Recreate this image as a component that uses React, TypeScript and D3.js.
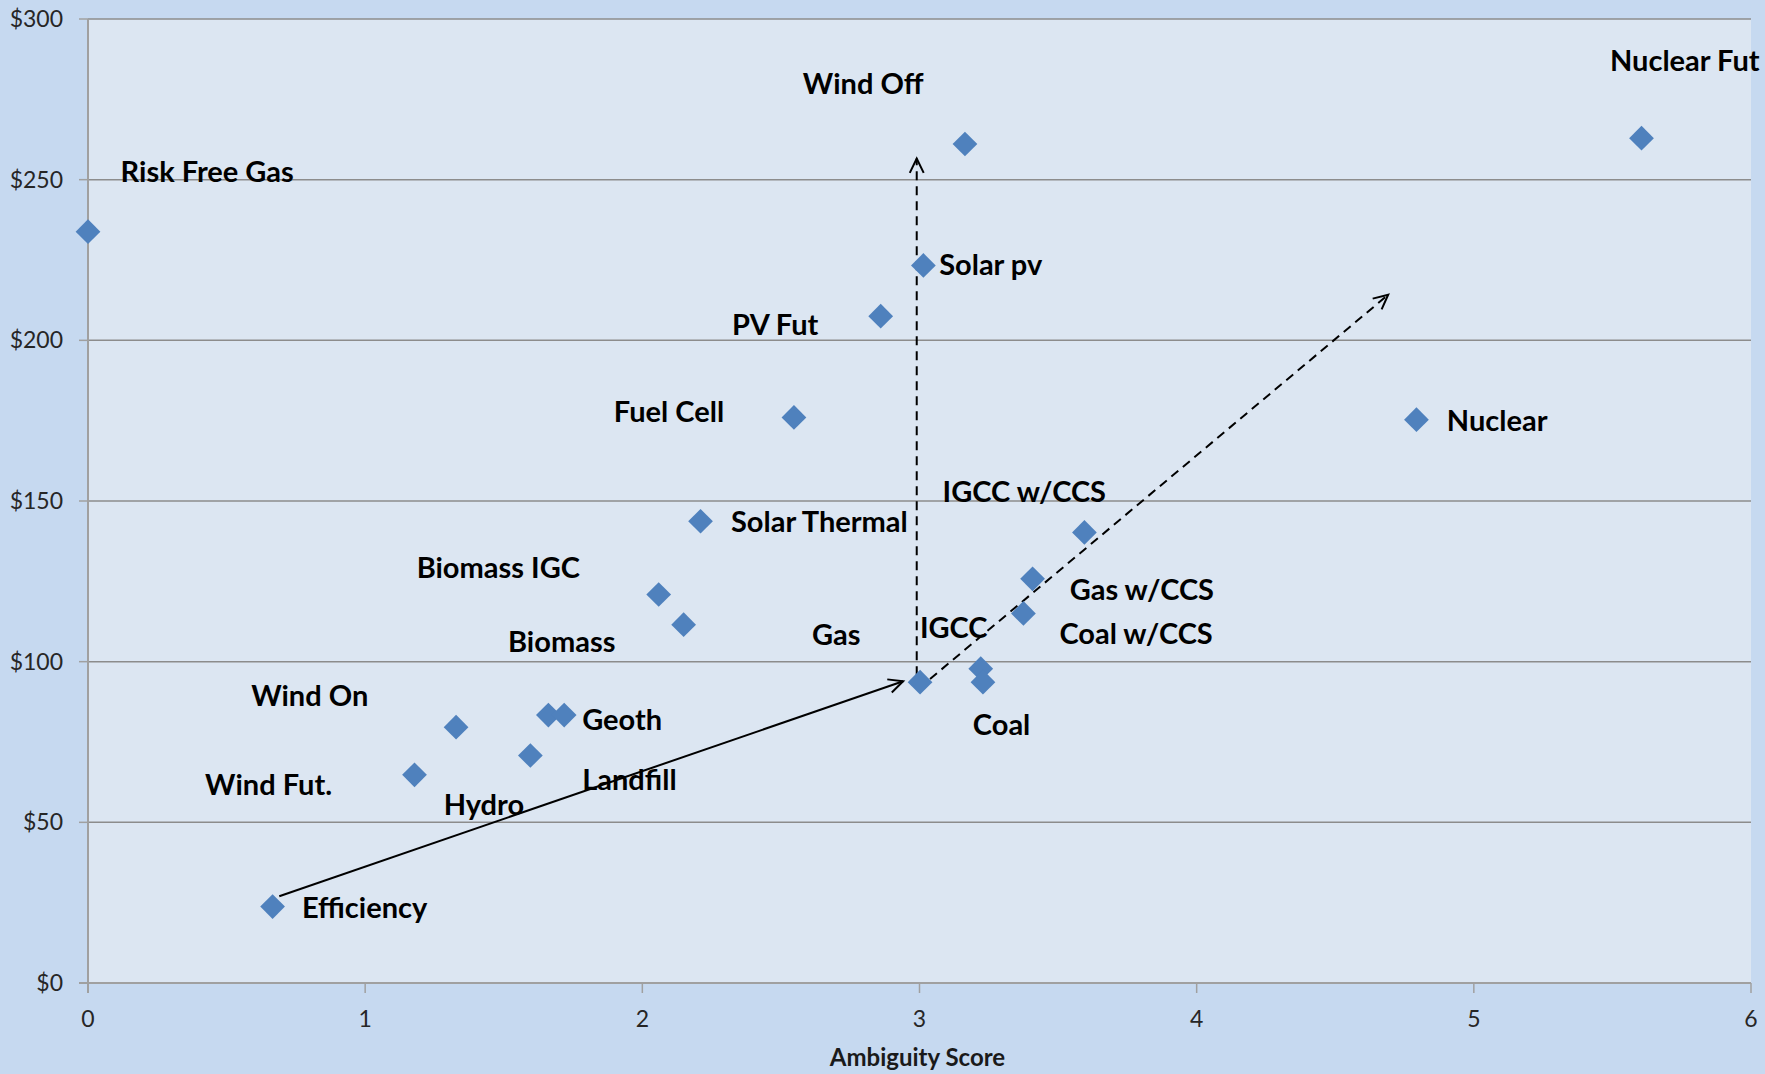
import React, { useEffect } from "react";
import * as d3 from "d3";

// ---- data ----
const names = [
  "Risk Free Gas", "Efficiency", "Wind Fut.", "Wind On", "Hydro", "Landfill", "Geoth",
  "Biomass IGC", "Biomass", "Solar Thermal", "Fuel Cell", "PV Fut", "Solar pv", "Wind Off",
  "Gas", "IGCC", "Coal", "Coal w/CCS", "Gas w/CCS", "IGCC w/CCS", "Nuclear", "Nuclear Fut",
];
const ambiguity = [
  0.0, 0.666, 1.178, 1.328, 1.596, 1.661, 1.718,
  2.059, 2.149, 2.21, 2.547, 2.86, 3.014, 3.164,
  3.002, 3.221, 3.229, 3.375, 3.408, 3.595, 4.793, 5.605,
];
const cost = [
  233.8, 23.8, 64.8, 79.6, 70.8, 83.4, 83.4,
  120.9, 111.5, 143.7, 176.0, 207.5, 223.3, 261.1,
  93.6, 97.8, 93.6, 115.0, 125.8, 140.2, 175.3, 262.9,
];
const xTicks = [0, 1, 2, 3, 4, 5, 6];
const yTicks = [0, 50, 100, 150, 200, 250, 300];
const xTitle = "Ambiguity Score";

// arrows in data units
const arrowFrom = [[0.69, 27.0], [2.99, 95.8], [3.038, 94.6]];
const arrowTo = [[2.941, 93.9], [2.99, 256.6], [4.691, 214.2]];
const arrowDashed = [false, true, true];

// label offsets in pixels (dx to text start, dy to text middle)
const labelOffsets: [number, number][] = [
  [32.6, -59.7], [29.3, 1.1], [-209.4, 10.1], [-204.9, -31.5], [-86.7, 49.5], [33.8, 65.3], [18.0, 4.5],
  [-242.0, -27.0], [-175.6, 16.9], [30.4, 1.1], [-180.1, -5.6], [-148.6, 9.0], [15.8, -1.1], [-162.1, -59.7],
  [-108.1, -47.3], [-60.8, -40.5], [-10.1, 42.8], [36.0, 20.3], [37.1, 11.3], [-141.8, -40.5], [30.4, 1.1], [-31.5, -77.7],
];

const W = 1765;
const H = 1074;
const M = { left: 88, right: 1751, top: 19, bottom: 983 };

export default function App() {
  useEffect(() => {
    document.body.style.margin = "0";
  }, []);

  const x = d3.scaleLinear().domain([0, 6]).range([M.left, M.right]);
  const y = d3.scaleLinear().domain([0, 300]).range([M.bottom, M.top]);
  const font = "Lato, 'Open Sans', sans-serif";
  const diamond = d3.symbol().type(d3.symbolDiamond2).size(390)();

  const arrowHead = (x1: number, y1: number, x2: number, y2: number) => {
    const a = Math.atan2(y2 - y1, x2 - x1);
    const L = 16;
    const s = 0.45;
    const p1 = [x2 - L * Math.cos(a - s), y2 - L * Math.sin(a - s)];
    const p2 = [x2 - L * Math.cos(a + s), y2 - L * Math.sin(a + s)];
    return `M${p1[0]},${p1[1]}L${x2},${y2}L${p2[0]},${p2[1]}`;
  };

  return (
    <svg width={W} height={H} style={{ display: "block" }}>
      <rect x={0} y={0} width={W} height={H} fill="#c6d9f0" />
      <rect x={M.left} y={M.top} width={M.right - M.left} height={M.bottom - M.top} fill="#dce6f2" />
      {yTicks.filter((t) => t > 0).map((t) => (
        <line key={t} x1={M.left} x2={M.right} y1={y(t)} y2={y(t)} stroke="#8c8c8c" strokeWidth={1.5} />
      ))}
      <line x1={M.left} x2={M.left} y1={M.top} y2={M.bottom + 10} stroke="#a0a0a0" strokeWidth={2} />
      <line x1={M.left - 9} x2={M.right} y1={M.bottom} y2={M.bottom} stroke="#a0a0a0" strokeWidth={2} />
      {yTicks.map((t) => (
        <g key={"y" + t}>
          <line x1={M.left - 9} x2={M.left} y1={y(t)} y2={y(t)} stroke="#a0a0a0" strokeWidth={1.5} />
          <text x={M.left - 25} y={y(t)} dy="0.35em" textAnchor="end" fontFamily={font} fontSize={23} fill="#262626">
            {"$" + t}
          </text>
        </g>
      ))}
      {xTicks.map((t) => (
        <g key={"x" + t}>
          <line x1={x(t)} x2={x(t)} y1={M.bottom} y2={M.bottom + 10} stroke="#a0a0a0" strokeWidth={1.5} />
          <text x={x(t)} y={1019} dy="0.35em" textAnchor="middle" fontFamily={font} fontSize={23} fill="#262626">
            {t}
          </text>
        </g>
      ))}
      <text x={x(3) - 2} y={1058} dy="0.35em" textAnchor="middle" fontFamily={font} fontSize={24} fontWeight="bold" fill="#1a1a1a">
        {xTitle}
      </text>
      {arrowFrom.map((f, i) => {
        const x1 = x(f[0]);
        const y1 = y(f[1]);
        const x2 = x(arrowTo[i][0]);
        const y2 = y(arrowTo[i][1]);
        return (
          <g key={"a" + i} fill="none" stroke="#000" strokeWidth={2}>
            <line x1={x1} y1={y1} x2={x2} y2={y2} strokeDasharray={arrowDashed[i] ? "9,6" : undefined} />
            <path d={arrowHead(x1, y1, x2, y2)} />
          </g>
        );
      })}
      {names.map((n, i) => (
        <path key={"p" + i} d={diamond || ""} transform={`translate(${x(ambiguity[i])},${y(cost[i])})`} fill="#4f81bd" />
      ))}
      {names.map((n, i) => (
        <text
          key={"l" + i}
          x={x(ambiguity[i]) + labelOffsets[i][0]}
          y={y(cost[i]) + labelOffsets[i][1]}
          dy="0.35em"
          fontFamily={font}
          fontSize={29}
          fontWeight="bold"
          fill="#000"
        >
          {n}
        </text>
      ))}
    </svg>
  );
}
